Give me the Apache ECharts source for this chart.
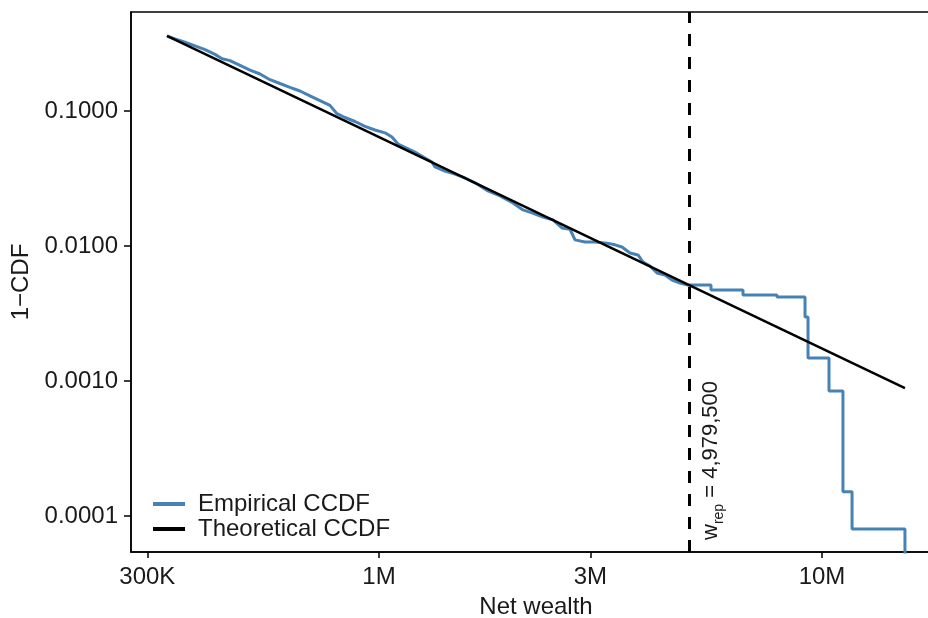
<!DOCTYPE html>
<html><head><meta charset="utf-8">
<script src="https://cdn.jsdelivr.net/npm/echarts@6/dist/echarts.min.js"></script>
<style>html,body{margin:0;padding:0;background:#fff}#c{width:928px;height:618px}</style>
</head><body><div id="c"></div>
<script>
// Empirical CCDF — net wealth vs 1-CDF (tail corners listed explicitly)
const empWealth = [332300, 346400, 364900, 384400, 404900, 426500, 442300, 461100, 485700, 511600,
  538900, 567500, 597700, 629700, 663200, 698600, 735900, 775100, 803800, 838000,
  882700, 929800, 979400, 1031600, 1069900, 1103800, 1144700, 1205600, 1270100, 1317100,
  1337800, 1409300, 1484500, 1563600, 1664300, 1762000, 1875400, 2006600, 2113800, 2214800,
  2345000, 2470000, 2588000, 2699000, 2770000, 2917000, 3073000, 3270000, 3410000, 3536000,
  3687000, 3843000, 3944000, 4090000, 4242000, 4422000, 4586000, 4781000, 4979500,
  5616000, 5616000, 6632000, 6632000, 7914000, 7914000, 9155000, 9155000, 9299000, 9299000,
  10370000, 10370000, 11150000, 11150000, 11690000, 11690000, 15390000, 15390000];
const empCCDF = [0.3594, 0.3415, 0.3228, 0.3035, 0.2844, 0.2626, 0.2435, 0.2361, 0.2177, 0.2005,
  0.1879, 0.1705, 0.1598, 0.1498, 0.1406, 0.1296, 0.1194, 0.1100, 0.0955, 0.0895,
  0.0836, 0.0770, 0.0723, 0.0689, 0.0642, 0.0569, 0.0537, 0.0496, 0.0449, 0.0419,
  0.0385, 0.0359, 0.0341, 0.0319, 0.0288, 0.0256, 0.0235, 0.0208, 0.0185, 0.0176,
  0.0164, 0.0156, 0.0136, 0.0133, 0.0111, 0.0107, 0.0107, 0.0105, 0.0102, 0.00983,
  0.00887, 0.00858, 0.00761, 0.00711, 0.00631, 0.00610, 0.00560, 0.00532, 0.00514,
  0.00514, 0.00472, 0.00472, 0.00434, 0.00434, 0.00419, 0.00419, 0.00298, 0.00298, 0.00148,
  0.00148, 0.000843, 0.000843, 0.000151, 0.000151, 0.0000801, 0.0000801, 0.00001];
// Theoretical (power-law) CCDF endpoints
const theoWealth = [332300, 15390000];
const theoCCDF = [0.3594, 0.000887];
// Representative wealth threshold
const wRep = 4979500;
const wRepText = '4,979,500';
// Axis ticks
const xTickValues = [300000, 1000000, 3000000, 10000000];
const xTickLabels = ['300K', '1M', '3M', '10M'];
const yTickValues = [0.0001, 0.001, 0.01, 0.1];
const yTickLabels = ['0.0001', '0.0010', '0.0100', '0.1000'];
const xRange = [275600, 18560000];
const yRange = [0.0000541, 0.541];

const L = Math.log10;
const FONT = "'Liberation Sans', Arial, sans-serif";
const TXT = '#1a1a1a';
const FS = 24;
function lookup(vals, labels, v) {
  for (let i = 0; i < vals.length; i++) if (Math.abs(L(vals[i]) - v) < 1e-6) return labels[i];
  return '';
}
const chart = echarts.init(document.getElementById('c'), null, {renderer: 'canvas'});
const option = {
  animation: false,
  backgroundColor: '#fff',
  grid: {left: 131, width: 810, top: 12, bottom: 66, show: true, borderColor: '#000', borderWidth: 1.5,
    containLabel: false, outerBoundsMode: 'none'},
  xAxis: {
    type: 'value', min: L(xRange[0]), max: L(xRange[1]),
    name: 'Net wealth', nameLocation: 'middle', nameGap: 43,
    nameTextStyle: {fontFamily: FONT, fontSize: FS, color: TXT},
    axisLine: {show: true, lineStyle: {color: '#000', width: 1.5}},
    axisTick: {show: true, length: 6, lineStyle: {color: '#000', width: 1.5}, customValues: xTickValues.map(L)},
    axisLabel: {customValues: xTickValues.map(L), margin: 13, fontFamily: FONT, fontSize: FS, color: TXT,
      formatter: v => lookup(xTickValues, xTickLabels, v)},
    splitLine: {show: false}
  },
  yAxis: {
    type: 'value', min: L(yRange[0]), max: L(yRange[1]),
    name: '1\u2212CDF', nameLocation: 'middle', nameGap: 96,
    nameTextStyle: {fontFamily: FONT, fontSize: FS, color: TXT},
    axisLine: {show: true, lineStyle: {color: '#000', width: 1.5}},
    axisTick: {show: true, length: 7, lineStyle: {color: '#000', width: 1.5}, customValues: yTickValues.map(L)},
    axisLabel: {customValues: yTickValues.map(L), margin: 13, fontFamily: FONT, fontSize: FS, color: TXT,
      formatter: v => lookup(yTickValues, yTickLabels, v)},
    splitLine: {show: false}
  },
  legend: {
    orient: 'vertical', left: 148, top: 487, itemGap: 1, itemWidth: 32, itemHeight: 4,
    icon: 'rect',
    textStyle: {fontFamily: FONT, fontSize: FS, color: TXT, padding: [0, 0, 0, 8]},
    data: ['Empirical CCDF', 'Theoretical CCDF']
  },
  series: [
    {
      name: 'Empirical CCDF', type: 'line', showSymbol: false, symbol: 'none',
      clip: true, color: '#4682B4',
      lineStyle: {color: '#4682B4', width: 3},
      data: empWealth.map((w, i) => [L(w), L(empCCDF[i])]),
      z: 2
    },
    {
      name: 'Theoretical CCDF', type: 'line', showSymbol: false, symbol: 'none', color: '#000',
      lineStyle: {color: '#000', width: 2.5},
      data: theoWealth.map((w, i) => [L(w), L(theoCCDF[i])]),
      z: 3,
      markLine: {
        silent: true, symbol: 'none', animation: false,
        lineStyle: {color: '#000', width: 3, type: [12, 11]},
        label: {show: false},
        data: [{xAxis: L(wRep)}]
      }
    }
  ]
};
chart.setOption(option);
const p = chart.convertToPixel({gridIndex: 0}, [L(wRep), L(yRange[0])]);
chart.setOption({
  graphic: [{
    type: 'text', x: p[0] + 23, y: p[1] - 12, rotation: Math.PI / 2,
    style: {
      text: '{w|w}{s|rep}{w| = ' + wRepText + '}',
      align: 'left', verticalAlign: 'middle', fill: TXT,
      rich: {
        w: {fontFamily: FONT, fontSize: 22, fill: TXT, verticalAlign: 'middle'},
        s: {fontFamily: FONT, fontSize: 14, fill: TXT, verticalAlign: 'bottom', lineHeight: 31}
      }
    },
    z: 10
  }]
});
</script></body></html>
